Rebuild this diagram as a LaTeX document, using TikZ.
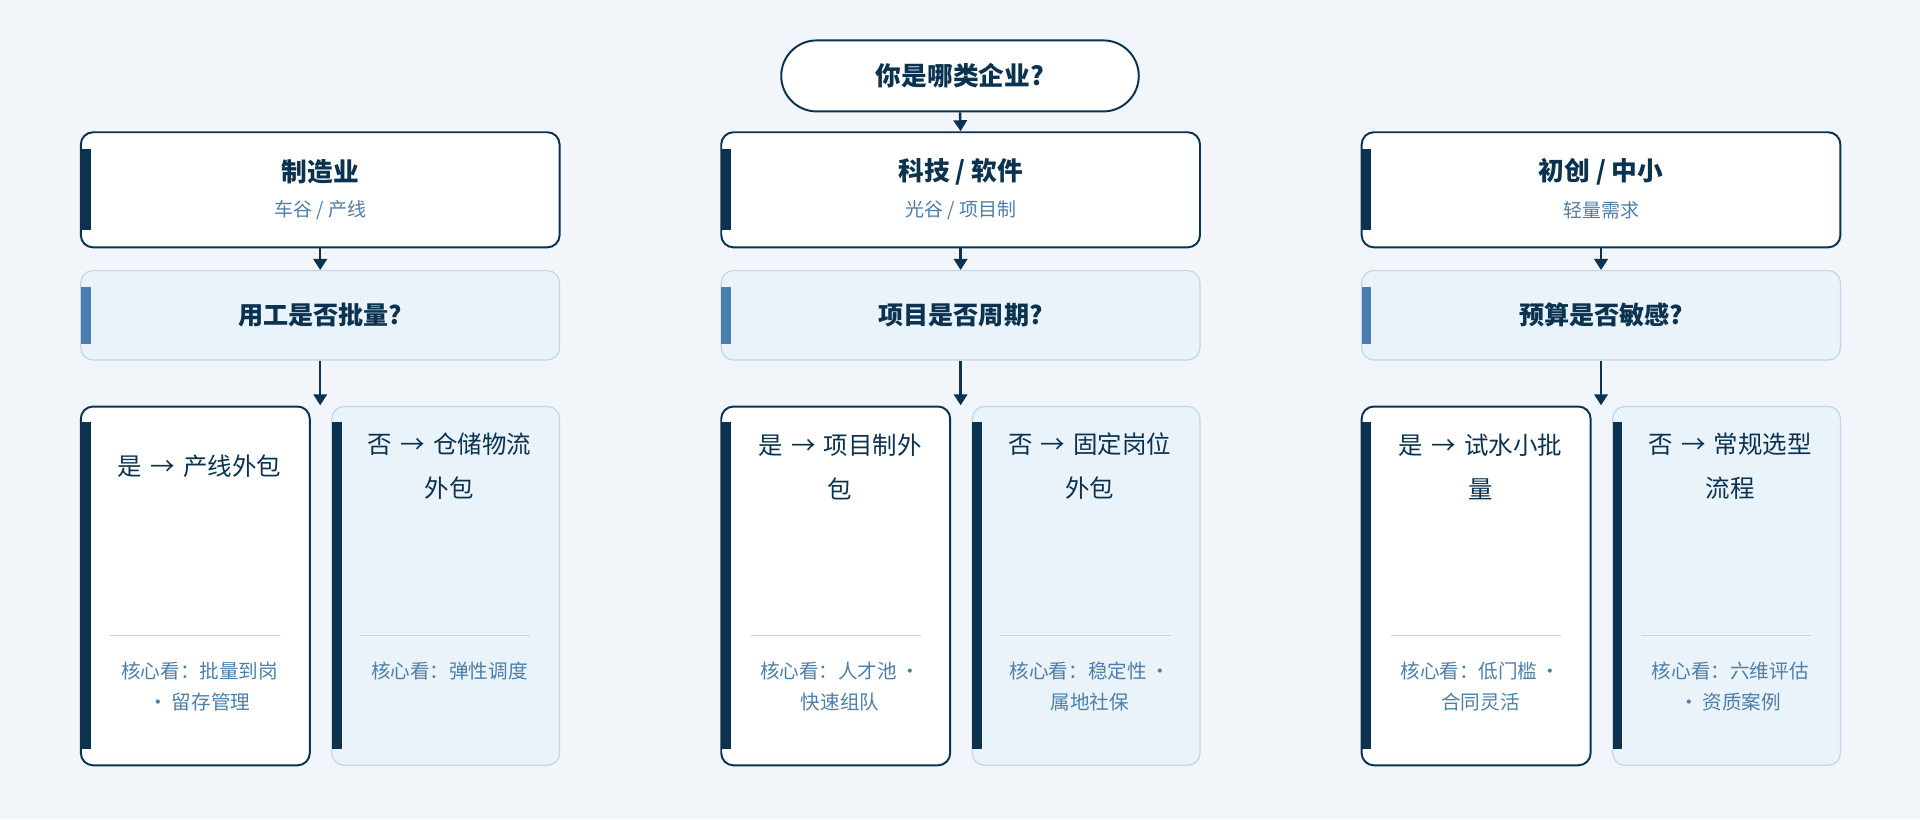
\documentclass[tikz,border=0pt]{standalone}
\usepackage{fontspec}
\setmainfont{Noto Sans CJK SC}
\usetikzlibrary{arrows.meta}
\definecolor{navy}{HTML}{0B3350}
\definecolor{bg}{HTML}{F2F6FA}
\definecolor{lite}{HTML}{EAF2FA}
\definecolor{liteb}{HTML}{C3D6E8}
\definecolor{mid}{HTML}{4A7FB0}
\definecolor{subc}{HTML}{4E7FA8}
\tikzset{
 hdr/.style={draw=navy,line width=1.6pt,fill=white,rounded corners=10pt,minimum width=391pt,minimum height=94pt,inner sep=0pt},
 qb/.style={draw=liteb,line width=1pt,fill=lite,rounded corners=10pt,minimum width=391pt,minimum height=73pt,inner sep=0pt,font=\bfseries\fontsize{20.5}{24}\selectfont,text=navy},
 leafw/.style={draw=navy,line width=1.6pt,fill=white,rounded corners=10pt,minimum width=187pt,minimum height=293pt,inner sep=0pt},
 leafl/.style={draw=liteb,line width=1pt,fill=lite,rounded corners=10pt,minimum width=186pt,minimum height=293pt,inner sep=0pt},
 ltxt/.style={anchor=center,text width=165pt,align=center,font=\fontsize{20}{36}\selectfont,text=navy},
 ftxt/.style={anchor=north,text width=165pt,align=center,font=\fontsize{16}{25}\selectfont,text=subc},
 arr/.style={draw=navy,line width=2pt,-{Triangle[length=9pt,width=11pt]}},
}
\newcommand{\mkcol}[9]{%
 \node[hdr] (h#1) at (#2+195.5,155) {};
 \fill[navy] (#2,122) rectangle (#2+8,188);
 \node[font=\bfseries\fontsize{21}{24}\selectfont,text=navy] (ht#1) at (#2+195.5,140) {#3};
 \node[font=\fontsize{15.5}{18}\selectfont,text=subc] (hs#1) at (#2+195.5,172) {#4};
 \node[qb] (q#1) at (#2+195.5,257.5) {#5};
 \fill[mid] (#2,234) rectangle (#2+8,281);
 \draw[arr] (h#1.south) -- (q#1.north);
 \node[leafw] (a#1) at (#2+93.5,478.5) {};
 \fill[navy] (#2,345) rectangle (#2+8,612);
 \node[ltxt] (at#1) at (#2+97,381) {#6};
 \draw[liteb,line width=1pt] (#2+24,519) -- (#2+163,519);
 \node[ftxt] (af#1) at (#2+97,537) {#7};
 \node[leafl] (b#1) at (#2+298,478.5) {};
 \fill[navy] (#2+205,345) rectangle (#2+213,612);
 \node[ltxt] (bt#1) at (#2+301,381) {#8};
 \draw[liteb,line width=1pt] (#2+228,519) -- (#2+367,519);
 \node[ftxt] (bf#1) at (#2+301,537) {#9};
 \coordinate (c#1) at (#2+195.5,331);
 \draw[arr] (q#1.south) -- (c#1);
}
\begin{document}
\begin{tikzpicture}[x=1pt,y=-1pt]
\fill[bg] (0,0) rectangle (1568,669);
\useasboundingbox (0,0) rectangle (1568,669);
\node[draw=navy,line width=1.6pt,fill=white,rounded corners=29pt,minimum width=292pt,minimum height=58pt,font=\bfseries\fontsize{21}{24}\selectfont,text=navy] (top) at (784,62) {你是哪类企业?};
\mkcol{1}{66}{制造业}{车谷 / 产线}{用工是否批量?}{是 → 产线外包}{核心看：批量到岗\\·\,留存管理}{否 → 仓储物流\\外包}{核心看：弹性调度}
\mkcol{2}{589}{科技 / 软件}{光谷 / 项目制}{项目是否周期?}{是 → 项目制外\\包}{核心看：人才池\,·\\快速组队}{否 → 固定岗位\\外包}{核心看：稳定性\,·\\属地社保}
\mkcol{3}{1112}{初创 / 中小}{轻量需求}{预算是否敏感?}{是 → 试水小批\\量}{核心看：低门槛\,·\\合同灵活}{否 → 常规选型\\流程}{核心看：六维评估\\·\,资质案例}
\draw[arr] (top.south) -- (h2.north);
\end{tikzpicture}
\end{document}
